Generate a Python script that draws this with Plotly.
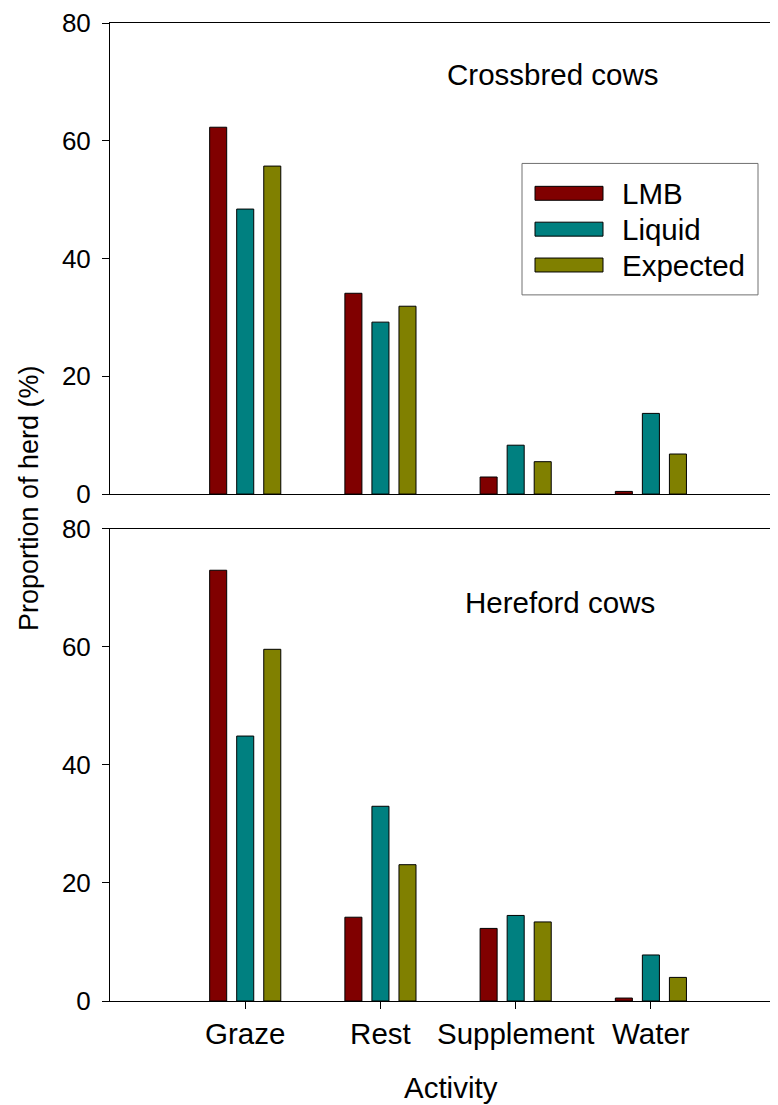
import plotly.graph_objects as go

activities = ["Graze", "Rest", "Supplement", "Water"]
series_names = ["LMB", "Liquid", "Expected"]
colors = ["#800000", "#008080", "#808000"]

crossbred_lmb = [62.3, 34.1, 2.9, 0.45]
crossbred_liquid = [48.4, 29.2, 8.3, 13.7]
crossbred_expected = [55.7, 31.9, 5.5, 6.8]

hereford_lmb = [73.0, 14.2, 12.3, 0.5]
hereford_liquid = [44.9, 33.0, 14.5, 7.8]
hereford_expected = [59.6, 23.1, 13.4, 4.0]

y_ticks = [0, 20, 40, 60, 80]

FONT = "Liberation Sans, Arial, sans-serif"
OFF = 8  # page body margin
W, H = 778 - OFF, 1105 - OFF
ML, MR, MT, MB = 110 - OFF, 0, 19 - OFF, 104
PW, PH = W - ML - MR, H - MT - MB


def px_x(p):
    return (p - OFF - ML) / PW


def px_y(p):
    return (H - MB - (p - OFF)) / PH


fig = go.Figure()
top = [crossbred_lmb, crossbred_liquid, crossbred_expected]
bot = [hereford_lmb, hereford_liquid, hereford_expected]
for i, name in enumerate(series_names):
    fig.add_trace(go.Bar(x=activities, y=top[i], name=name, marker=dict(color=colors[i], line=dict(color="black", width=1)),
                         xaxis="x", yaxis="y", showlegend=False))
for i, name in enumerate(series_names):
    fig.add_trace(go.Bar(x=activities, y=bot[i], name=name, marker=dict(color=colors[i], line=dict(color="black", width=1)),
                         xaxis="x2", yaxis="y2", showlegend=False))

top_dom = [px_y(492), 1]
bot_dom = [0, px_y(527)]

common_x = dict(range=[-1, 3.94], showline=True, linecolor="black", linewidth=1, mirror=True,
                showgrid=False, zeroline=False, tickfont=dict(family=FONT, size=29.5, color="black"))
common_y = dict(range=[0, 80], tickvals=y_ticks, showline=True, linecolor="black", linewidth=1,
                ticks="outside", ticklen=7, tickcolor="black", showgrid=False, zeroline=False,
                tickfont=dict(family=FONT, size=26, color="black"), ticklabelstandoff=6)

fig.update_layout(
    width=W, height=H,
    margin=dict(l=ML, r=MR, t=MT, b=MB),
    paper_bgcolor="white", plot_bgcolor="white",
    barmode="group", bargap=0.4, bargroupgap=0.37,
    font=dict(family=FONT, color="black"),
    xaxis=dict(**common_x, domain=[0, 1], anchor="y", showticklabels=False, ticks=""),
    yaxis=dict(**common_y, domain=top_dom, anchor="x"),
    xaxis2=dict(**common_x, domain=[0, 1], anchor="y2", ticks="outside", ticklen=7, tickcolor="black"),
    yaxis2=dict(**common_y, domain=bot_dom, anchor="x2"),
)

ann = [
    dict(text="Crossbred cows", x=px_x(552.5), y=px_y(71), size=29.5),
    dict(text="Hereford cows", x=px_x(560), y=px_y(601), size=29.5),
    dict(text="Activity", x=px_x(451), y=px_y(1088), size=29.5),
]
for a in ann:
    fig.add_annotation(text=a["text"], x=a["x"], y=a["y"], xref="paper", yref="paper", showarrow=False,
                       xanchor="center", yanchor="middle", font=dict(family=FONT, size=a["size"], color="black"))
fig.add_annotation(text="Proportion of herd (%)", x=px_x(29), y=px_y(496), xref="paper", yref="paper",
                   showarrow=False, textangle=-90, xanchor="center", yanchor="middle",
                   font=dict(family=FONT, size=27, color="black"))

# legend box
fig.add_shape(type="rect", xref="paper", yref="paper", x0=px_x(522), x1=px_x(758), y0=px_y(292), y1=px_y(160),
              line=dict(color="#707070", width=1), fillcolor="white")
centers = [190, 226, 262]
for i, name in enumerate(series_names):
    c = centers[i]
    fig.add_shape(type="rect", xref="paper", yref="paper", x0=px_x(535), x1=px_x(603), y0=px_y(c + 7), y1=px_y(c - 7),
                  line=dict(color="black", width=1), fillcolor=colors[i])
    fig.add_annotation(text=name, x=px_x(620), y=px_y(c), xref="paper", yref="paper", showarrow=False,
                       xanchor="left", yanchor="middle", font=dict(family=FONT, size=29.5, color="black"))

fig.write_html("out.html")
